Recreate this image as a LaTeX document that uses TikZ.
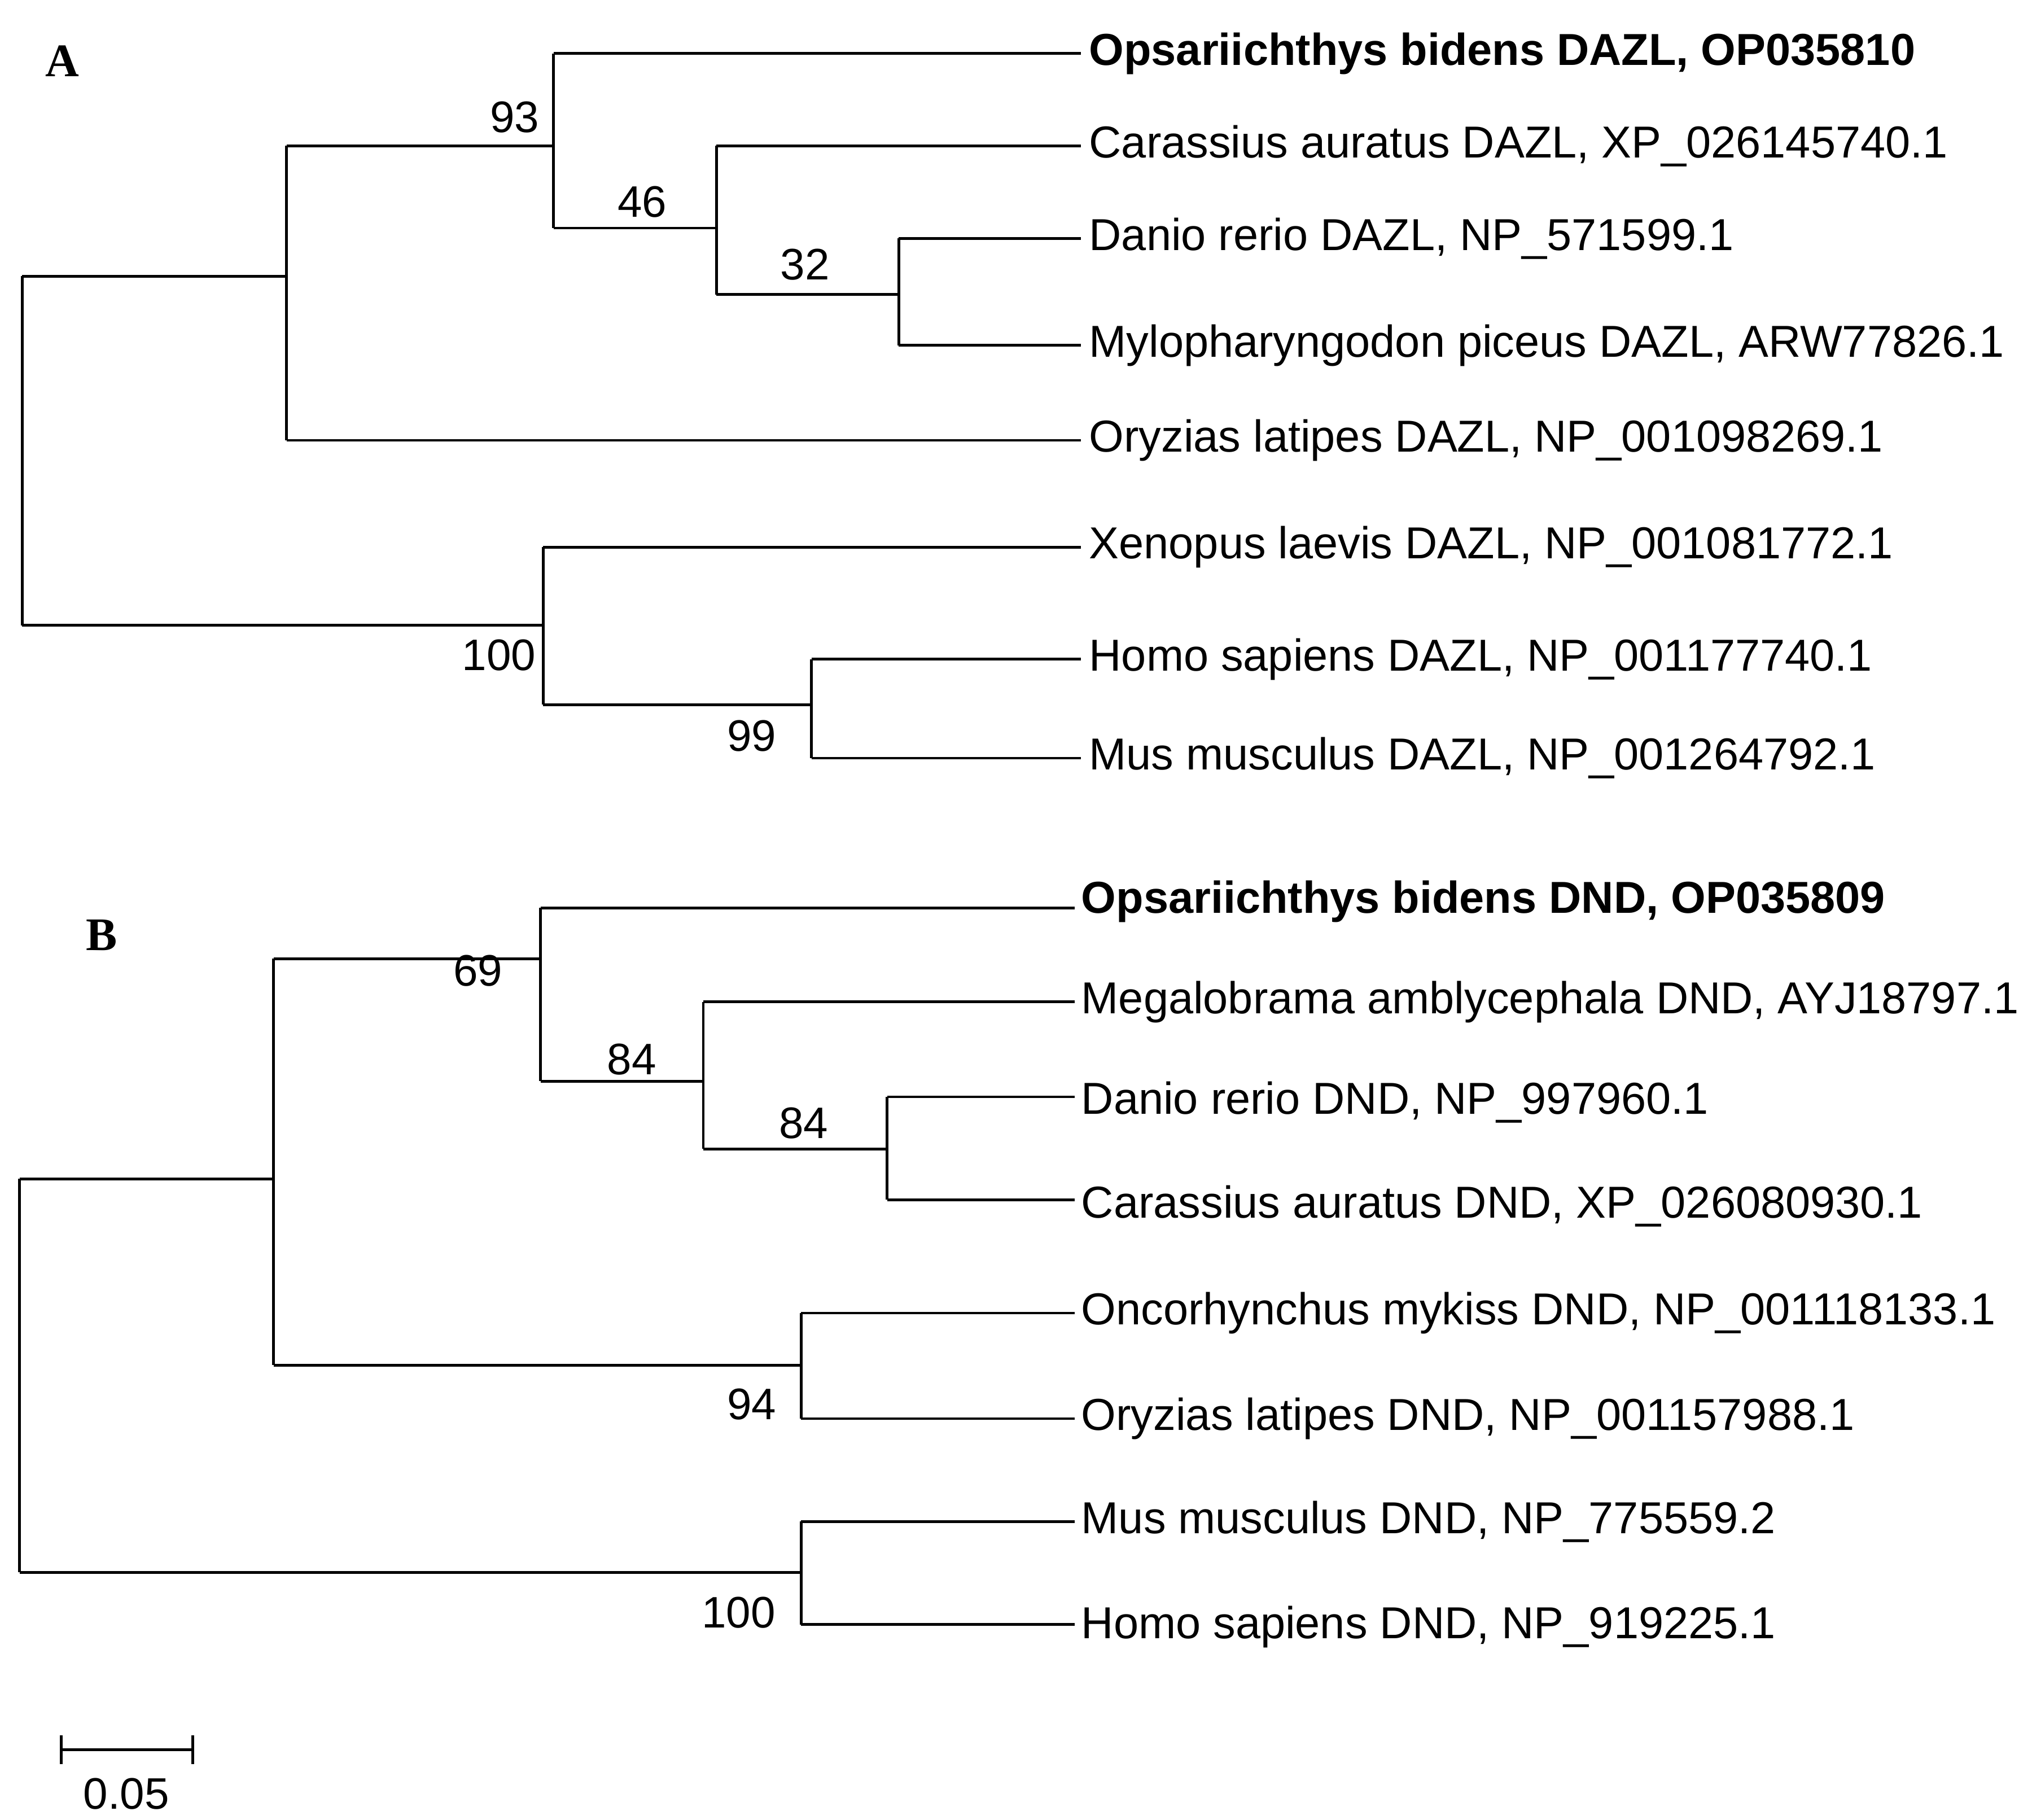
\documentclass[tikz,border=0pt]{standalone}
\usepackage{fontspec}
\setmainfont{Liberation Sans}
\newfontfamily\serifb{Liberation Serif}
\begin{document}
\begin{tikzpicture}[x=1bp,y=-1bp,
  br/.style={line width=2bp,black},
  lab/.style={anchor=west,inner sep=0,font=\fontsize{34.5}{40}\selectfont},
  bs/.style={inner sep=0,font=\fontsize{34}{40}\selectfont},
  pan/.style={inner sep=0,font=\serifb\bfseries\fontsize{36}{40}\selectfont}]
\useasboundingbox (0,0) rectangle (1560,1397);
% ---------- Tree A ----------
\node[pan] (pa) at (48,47) {A};
\draw[br] (17,212) -- (17,480);
\draw[br] (17,212) -- (220,212) (220,112) -- (220,338);
\draw[br] (220,112) -- (425,112) (425,41) -- (425,175);
\draw[br] (425,175) -- (550,175) (550,112) -- (550,226);
\draw[br] (550,226) -- (690,226) (690,183) -- (690,265);
\draw[br] (17,480) -- (417,480) (417,420) -- (417,541);
\draw[br] (417,541) -- (623,541) (623,506) -- (623,582);
\node[lab,font=\bfseries\fontsize{34.5}{40}\selectfont] (l1) at (836,41) {Opsariichthys bidens DAZL, OP035810};
\node[lab] (l2) at (836,112) {Carassius auratus DAZL, XP\_026145740.1};
\node[lab] (l3) at (836,183) {Danio rerio DAZL, NP\_571599.1};
\node[lab] (l4) at (836,265) {Mylopharyngodon piceus DAZL, ARW77826.1};
\node[lab] (l5) at (836,338) {Oryzias latipes DAZL, NP\_001098269.1};
\node[lab] (l6) at (836,420) {Xenopus laevis DAZL, NP\_001081772.1};
\node[lab] (l7) at (836,506) {Homo sapiens DAZL, NP\_001177740.1};
\node[lab] (l8) at (836,582) {Mus musculus DAZL, NP\_001264792.1};
\draw[br] (425,41) -- (830,41);
\draw[br] (550,112) -- (830,112);
\draw[br] (690,183) -- (830,183);
\draw[br] (690,265) -- (830,265);
\draw[br] (220,338) -- (830,338);
\draw[br] (417,420) -- (830,420);
\draw[br] (623,506) -- (830,506);
\draw[br] (623,582) -- (830,582);
\node[bs] (b93) at (395,90) {93};
\node[bs] (b46) at (493,155) {46};
\node[bs] (b32) at (618,203) {32};
\node[bs] (b100) at (383,503) {100};
\node[bs] (b99) at (577,565) {99};
% ---------- Tree B ----------
\node[pan] (pb) at (78,718) {B};
\draw[br] (15,905) -- (15,1207);
\draw[br] (15,905) -- (210,905) (210,736) -- (210,1048);
\draw[br] (210,736) -- (415,736) (415,697) -- (415,830);
\draw[br] (415,830) -- (540,830) (540,769) -- (540,882);
\draw[br] (540,882) -- (681,882) (681,842) -- (681,921);
\draw[br] (210,1048) -- (615,1048) (615,1008) -- (615,1089);
\draw[br] (15,1207) -- (615,1207) (615,1168) -- (615,1247);
\draw[br] (415,697) -- (825,697);
\draw[br] (540,769) -- (825,769);
\draw[br] (681,842) -- (825,842);
\draw[br] (681,921) -- (825,921);
\draw[br] (615,1008) -- (825,1008);
\draw[br] (615,1089) -- (825,1089);
\draw[br] (615,1168) -- (825,1168);
\draw[br] (615,1247) -- (825,1247);
\node[lab,font=\bfseries\fontsize{34.5}{40}\selectfont] (m1) at (830,692) {Opsariichthys bidens DND, OP035809};
\node[lab] (m2) at (830,769) {Megalobrama amblycephala DND, AYJ18797.1};
\node[lab] (m3) at (830,846) {Danio rerio DND, NP\_997960.1};
\node[lab] (m4) at (830,926) {Carassius auratus DND, XP\_026080930.1};
\node[lab] (m5) at (830,1008) {Oncorhynchus mykiss DND, NP\_001118133.1};
\node[lab] (m6) at (830,1089) {Oryzias latipes DND, NP\_001157988.1};
\node[lab] (m7) at (830,1168) {Mus musculus DND, NP\_775559.2};
\node[lab] (m8) at (830,1249) {Homo sapiens DND, NP\_919225.1};
\node[bs] (c69) at (367,745) {69};
\node[bs] (c84a) at (485,813) {84};
\node[bs] (c84b) at (617,862) {84};
\node[bs] (c94) at (577,1078) {94};
\node[bs] (c100) at (567,1238) {100};
% ---------- scale ----------
\draw[br] (47,1343) -- (148,1343) (47,1332) -- (47,1354) (148,1332) -- (148,1354);
\node[bs] (sc) at (97,1377) {0.05};
\end{tikzpicture}
\end{document}
